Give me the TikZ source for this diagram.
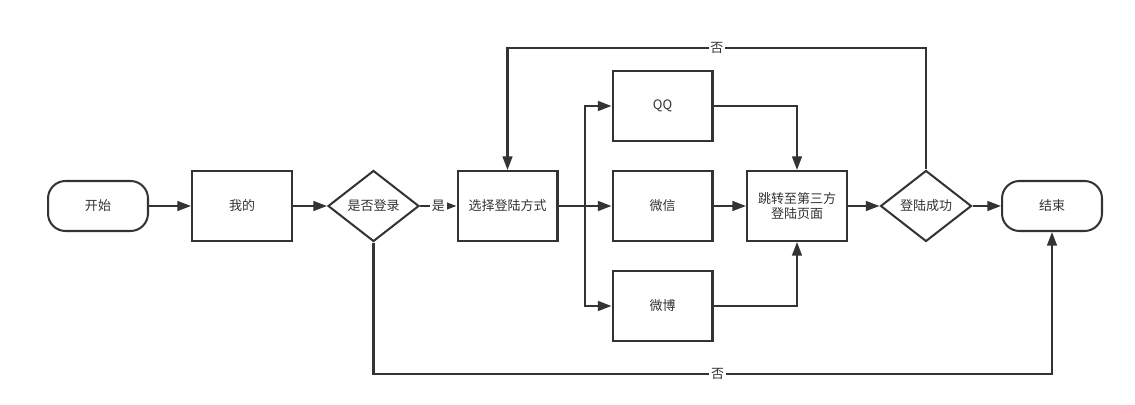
\documentclass[tikz,border=0pt]{standalone}
\usepackage{fontspec}
\setmainfont{Noto Sans CJK SC}
\usetikzlibrary{shapes.geometric,arrows.meta}

\begin{document}
\begin{tikzpicture}[x=0.02cm, y=-0.02cm, line width=1.15pt, color=black!80,
  every node/.style={font=\fontsize{7.4pt}{9pt}\selectfont},
  box/.style={draw, fill=white, minimum width=2cm, minimum height=1.4cm, align=center},
  term/.style={draw, fill=white, rounded corners=0.35cm, minimum width=2cm, minimum height=1cm},
  cond/.style={draw, fill=white, diamond, inner sep=0pt, minimum width=1.82cm, minimum height=1.42cm},
  arr/.style={-{Triangle[length=7.8pt,width=5.6pt]}},
  lbl/.style={fill=white, inner sep=1pt}]
  \useasboundingbox (0,0) rectangle (1135,405);

  \def \topy {48}
  \def \boty {374}

  % main row
  \node[term] (start)  at (98,206)   {开始};
  \node[box]  (mine)   at (242,206)  {我的};
  \node[cond] (login)  at (373.5,206) {是否登录};
  \node[box]  (choose) at (507.5,206) {选择登陆方式};
  \node[box]  (wechat) at (662.5,206) {微信};
  \node[box]  (qq)     at (662.5,106) {QQ};
  \node[box]  (weibo)  at (662.5,306) {微博};
  \node[box]  (jump)   at (797,206)  {跳转至第三方\\登陆页面};
  \node[cond] (ok)     at (926,206)  {登陆成功};
  \node[term] (end)    at (1052,206) {结束};

  \coordinate (fork) at (585,206);

  \draw[arr] (start) -- (mine);
  \draw[arr] (mine) -- (login);
  \draw[arr] (login) -- node[lbl] {是} (choose);
  \draw[arr] (choose) -- (wechat);
  \draw[arr] (fork) |- (qq);
  \draw[arr] (fork) |- (weibo);

  \draw[arr] (qq.east) -| (jump.north);
  \draw[arr] (wechat) -- (jump);
  \draw[arr] (weibo.east) -| (jump.south);

  \draw[arr] (jump) -- (ok);
  \draw[arr] (ok) -- (end);

  % back loops
  \draw[arr] (ok.north) -- (926,\topy)
    -- node[lbl, pos=0.5] {否} (choose.north |- 0,\topy) -- (choose.north);
  \draw[arr] (login.south) -- (373.5,\boty)
    -- node[lbl, pos=0.507] {否} (end.south |- 0,\boty) -- (end.south);
\end{tikzpicture}
\end{document}
